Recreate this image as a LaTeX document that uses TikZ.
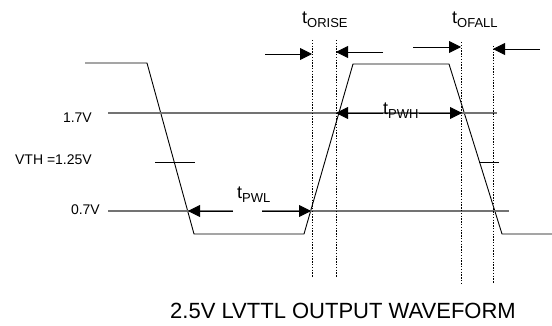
\documentclass[tikz,border=0pt]{standalone}
\usepackage{fontspec}
\setmainfont{Liberation Sans}
\usepackage{tikz}
\usetikzlibrary{arrows.meta}

\definecolor{lvlgray}{gray}{0.45}
\tikzset{
  wave/.style={black,line width=0.9pt},
  level/.style={lvlgray,line width=1.3pt},
  edgeline/.style={black,dash pattern=on 1.4pt off 1.4pt,line width=0.6pt},
  tarrow/.style={black,line width=0.9pt,-{Triangle[length=12pt,width=12pt]}},
  lab/.style={inner sep=0pt,font=\fontsize{14}{14}\selectfont},
}
\newcommand{\tsub}[1]{{\fontsize{18}{18}\selectfont t}\raisebox{-4pt}{\fontsize{13}{13}\selectfont #1}}

\begin{document}
\begin{tikzpicture}[x=1pt,y=-1pt]
\useasboundingbox (0,0) rectangle (552,326);

% waveform
\draw[wave] (85,63) -- (147,63) -- (194,234) -- (304,234) -- (353,64) -- (449,64) -- (502,234) -- (552,234);

% levels
\draw[level] (108,113) -- (497,113);
\draw[level] (108,211) -- (233,211);
\draw[level] (262,211) -- (509,211);
\draw[wave] (155,162) -- (195,162);
\draw[wave] (479,162) -- (499,162);

\node[lab,anchor=east] (vhi) at (92,118) {1.7V};
\node[lab,anchor=east] (vth) at (92,160) {VTH =1.25V};
\node[lab,anchor=east] (vlo) at (100,210) {0.7V};

% edge markers
\coordinate (r1) at (312,40);  \coordinate (r1b) at (312,277);
\coordinate (r2) at (336,40);  \coordinate (r2b) at (336,277);
\coordinate (f1) at (461,42);  \coordinate (f1b) at (461,283);
\coordinate (f2) at (493,46);  \coordinate (f2b) at (493,283);
\draw[edgeline] (r1) -- (r1b);
\draw[edgeline] (r2) -- (r2b);
\draw[edgeline] (f1) -- (f1b);
\draw[edgeline] (f2) -- (f2b);

% rise / fall
\node[inner sep=0pt,anchor=base west] (trise) at (302,24) {\tsub{ORISE}};
\node[inner sep=0pt,anchor=base west] (tfall) at (452,24) {\tsub{OFALL}};
\draw[tarrow] (265,54) -- (312,54);
\draw[tarrow] (383,52) -- (336,52);
\draw[tarrow] (413,47) -- (461,47);
\draw[tarrow] (540,49) -- (493,49);

% pulse widths
\node[inner sep=0pt,anchor=base west] (tpwh) at (383,115) {\tsub{PWH}};
\node[inner sep=0pt,anchor=base west] (tpwl) at (237,199) {\tsub{PWL}};
\draw[tarrow] (tpwh.west |- 0,113) -- (336,113);
\draw[tarrow] (tpwh.east |- 0,113) -- (462,113);
\draw[tarrow] (233,211) -- (188,211);
\draw[tarrow] (262,211) -- (311,211);

\node[inner sep=0pt,font=\fontsize{22}{22}\selectfont] (title) at (343,311) {2.5V LVTTL OUTPUT WAVEFORM};
\end{tikzpicture}
\end{document}
